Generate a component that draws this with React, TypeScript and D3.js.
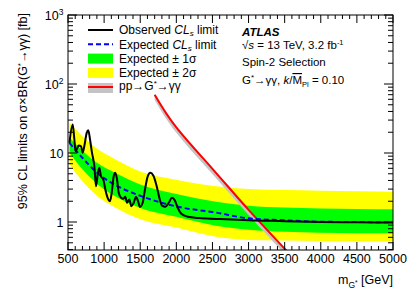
import React from "react";
import * as d3 from "d3";

// expected limit and bands (fb) vs m_G* (GeV)
const bandMass = [520, 700, 900, 1165, 1500, 2000, 2550, 3000, 3500, 4000, 4500, 5000];
const expected = [14.0, 8.5, 5.2, 3.4, 2.4, 1.68, 1.37, 1.13, 1.06, 1.01, 1.0, 0.99];
const plus1 = [16.8, 10.8, 7.2, 5.1, 3.5, 2.55, 1.97, 1.72, 1.62, 1.57, 1.55, 1.53];
const minus1 = [10.1, 5.8, 3.6, 2.32, 1.6, 1.19, 0.88, 0.77, 0.72, 0.7, 0.69, 0.69];
const plus2 = [27.3, 17.5, 11.6, 8.0, 5.4, 4.1, 3.3, 3.0, 2.9, 2.84, 2.78, 2.75];
const minus2 = [6.8, 3.9, 2.4, 1.6, 1.1, 0.83, 0.61, 0.55, 0.54, 0.53, 0.52, 0.52];

// observed limit
const obsMass = [520, 565, 588, 605, 648, 680, 703, 726, 759, 781, 805, 832, 865, 888, 911, 934, 957, 989, 1017, 1049,
  1082, 1105, 1133, 1155, 1179, 1202, 1234, 1266, 1294, 1317, 1349, 1377, 1410, 1442, 1470, 1497, 1534, 1566, 1604, 1640,
  1681, 1728, 1765, 1802, 1848, 1895, 1940, 1978, 2019, 2065, 2158, 2319, 2550, 3000, 3500, 4000, 4500, 5000];
const obsVal = [14.0, 25.8, 15.7, 10.6, 12.8, 12.6, 10.1, 12.6, 19.6, 21.4, 15.7, 10.1, 6.4, 3.3, 4.88, 6.1, 4.6, 4.13, 2.96, 2.24,
  2.0, 2.65, 4.6, 5.16, 4.13, 2.65, 2.24, 2.17, 2.32, 1.9, 2.12, 1.69, 1.9, 2.32, 2.0, 1.66, 1.9, 2.96, 4.6, 5.16,
  4.72, 3.3, 2.24, 1.73, 1.66, 1.9, 2.24, 2.07, 1.61, 1.33, 1.19, 1.14, 1.11, 1.06, 1.03, 1.0, 0.99, 0.98];

// theory pp -> G* -> yy
const thMass = [1700, 2000, 2500, 3000, 3500, 3800];
const thVal = [70, 23.5, 5.9, 1.5, 0.41, 0.18];

const xTickLabels = ["500", "1000", "1500", "2000", "2500", "3000", "3500", "4000", "4500", "5000"];

const font = "'Liberation Sans', Arial, Helvetica, sans-serif";

export default function App() {
  const width = 415, height = 298;
  const left = 68, right = 393, top = 15, bottom = 250;

  const x = d3.scaleLinear([500, 5000], [left, right]);
  const y = d3.scaleLog([0.393, 1000], [bottom, top]);

  const line = d3.line<number[]>().x(d => x(d[0])).y(d => y(d[1])).curve(d3.curveMonotoneX);
  const area = d3.area<number[]>().x(d => x(d[0])).y0(d => y(d[1])).y1(d => y(d[2])).curve(d3.curveMonotoneX);
  const smooth = d3.line<number[]>().x(d => x(d[0])).y(d => y(d[1])).curve(d3.curveNatural);
  const smoothArea = d3.area<number[]>().x(d => x(d[0])).y0(d => y(d[1])).y1(d => y(d[2])).curve(d3.curveNatural);

  const yellow = bandMass.map((m, i) => [m, minus2[i], plus2[i]]);
  const green = bandMass.map((m, i) => [m, minus1[i], plus1[i]]);
  const exp = bandMass.map((m, i) => [m, expected[i]]);
  const obs = obsMass.map((m, i) => [m, obsVal[i]]);
  const th = thMass.map((m, i) => [m, thVal[i]]);
  const thBand = thMass.map((m, i) => [m, thVal[i] * 0.84, thVal[i] * 1.02]);

  const xMinor = d3.range(500, 5001, 100);
  const xMajor = d3.range(500, 5001, 500);
  const yMajor = [1, 10, 100, 1000];
  const yMinor: number[] = [];
  [0.1, 1, 10, 100].forEach(dec => {
    for (let k = 2; k <= 9; k++) {
      const v = k * dec;
      if (v >= 0.393 && v <= 1000) yMinor.push(v);
    }
  });

  const legX0 = 88, legX1 = 113, legText = 119;
  const legY = [30, 44.3, 58.6, 72.9, 87];

  return (
    <svg width={width} height={height} style={{ position: "absolute", left: 0, top: 0, background: "white" }}
      fontFamily={font}>
      <defs>
        <clipPath id="plot">
          <rect x={left} y={top} width={right - left} height={bottom - top} />
        </clipPath>
      </defs>
      <g clipPath="url(#plot)">
        <path d={area(yellow)!} fill="#ffff00" />
        <path d={area(green)!} fill="#00ff00" />
        <path d={smoothArea(thBand)!} fill="#c4c4c4" />
        <path d={smooth(th)!} fill="none" stroke="#ff0000" strokeWidth={2} />
        <path d={line(exp)!} fill="none" stroke="#0000ff" strokeWidth={2} strokeDasharray="5,3" />
        <path d={line(obs)!} fill="none" stroke="black" strokeWidth={2} />
      </g>

      {/* frame and ticks */}
      <rect x={left} y={top} width={right - left} height={bottom - top} fill="none" stroke="black" strokeWidth={1} />
      <g stroke="black" strokeWidth={1}>
        {xMinor.map(m => {
          const len = m % 500 === 0 ? 8 : 4;
          return (
            <g key={"x" + m}>
              <line x1={x(m)} x2={x(m)} y1={bottom} y2={bottom - len} />
              <line x1={x(m)} x2={x(m)} y1={top} y2={top + len} />
            </g>
          );
        })}
        {yMajor.map(v => (
          <g key={"ym" + v}>
            <line x1={left} x2={left + 9} y1={y(v)} y2={y(v)} />
            <line x1={right} x2={right - 9} y1={y(v)} y2={y(v)} />
          </g>
        ))}
        {yMinor.map(v => (
          <g key={"yn" + v}>
            <line x1={left} x2={left + 5} y1={y(v)} y2={y(v)} />
            <line x1={right} x2={right - 5} y1={y(v)} y2={y(v)} />
          </g>
        ))}
      </g>

      {/* tick labels */}
      <g fontSize={12.5} fill="black">
        {xMajor.map((m, i) => (
          <text key={"xl" + m} x={x(m)} y={263} textAnchor="middle">{xTickLabels[i]}</text>
        ))}
        {yMajor.map(v => {
          const p = Math.round(Math.log10(v));
          return p <= 1 ? (
            <text key={"yl" + v} x={63.5} y={y(v) + 4.5} textAnchor="end">{String(v)}</text>
          ) : (
            <text key={"yl" + v} x={63.5} y={y(v) + 4.5} textAnchor="end">
              10<tspan dy={-5} fontSize={8.5}>{p}</tspan>
            </text>
          );
        })}
      </g>

      {/* axis titles */}
      <text x={right} y={284} textAnchor="end" fontSize={12.5}>
        m<tspan dy={3.5} fontSize={8.5}>G</tspan><tspan dy={-3} fontSize={6.5}>*</tspan>
        <tspan dy={-0.5}> [GeV]</tspan>
      </text>
      <text transform={`translate(27,${top - 2}) rotate(-90)`} textAnchor="end" fontSize={12.5}>
        95% CL limits on σ×BR(G<tspan dy={-4} fontSize={8}>*</tspan><tspan dy={4}>→γγ) [fb]</tspan>
      </text>

      {/* legend */}
      <line x1={legX0} x2={legX1} y1={legY[0]} y2={legY[0]} stroke="black" strokeWidth={2} />
      <line x1={legX0} x2={legX1} y1={legY[1]} y2={legY[1]} stroke="#0000ff" strokeWidth={2} strokeDasharray="5,3" />
      <rect x={legX0} y={legY[2] - 5} width={legX1 - legX0} height={10} fill="#00ff00" />
      <rect x={legX0} y={legY[3] - 5} width={legX1 - legX0} height={10} fill="#ffff00" />
      <rect x={legX0} y={legY[4] - 4} width={legX1 - legX0} height={10} fill="#c4c4c4" />
      <line x1={legX0} x2={legX1} y1={legY[4]} y2={legY[4]} stroke="#ff0000" strokeWidth={2} />
      <g fontSize={12}>
        <text x={legText} y={legY[0] + 4.3}>Observed <tspan fontStyle="italic">CL</tspan><tspan fontStyle="italic" dy={2} fontSize={8}>s</tspan><tspan dy={-2}> limit</tspan></text>
        <text x={legText} y={legY[1] + 4.3}>Expected <tspan fontStyle="italic">CL</tspan><tspan fontStyle="italic" dy={2} fontSize={8}>s</tspan><tspan dy={-2}> limit</tspan></text>
        <text x={legText} y={legY[2] + 4.6}>Expected ± 1σ</text>
        <text x={legText} y={legY[3] + 4.3}>Expected ± 2σ</text>
        <text x={legText} y={legY[4] + 3}>pp→G<tspan dy={-4} fontSize={8}>*</tspan><tspan dy={4}>→γγ</tspan></text>
      </g>

      {/* ATLAS label */}
      <g fontSize={11.5}>
        <text x={242} y={36} fontWeight="bold" fontStyle="italic">ATLAS</text>
        <text x={242} y={48.5}>√<tspan fontStyle="italic">s</tspan> = 13 TeV, 3.2 fb<tspan dy={-4} fontSize={7.5}>-1</tspan></text>
        <text x={242} y={66}>Spin-2 Selection</text>
        <text x={242} y={84}>G<tspan dy={-4} fontSize={8}>*</tspan><tspan dy={4}>→γγ, </tspan><tspan fontStyle="italic">k</tspan>/<tspan style={{ textDecoration: "overline" }}>M</tspan><tspan dy={2.5} fontSize={7.5}>Pl</tspan><tspan dy={-2.5}> = 0.10</tspan></text>
      </g>
    </svg>
  );
}
